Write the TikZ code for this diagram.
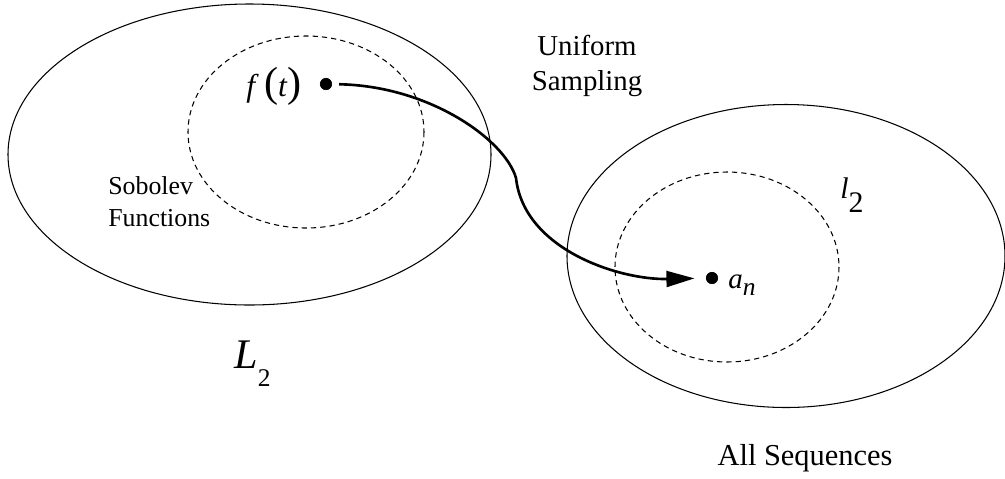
\documentclass[tikz,border=0pt]{standalone}
\usepackage{fontspec}
\setmainfont{Liberation Serif}
\usetikzlibrary{arrows.meta}
\tikzset{
  region/.style={draw,line width=0.6pt},
  subregion/.style={draw,line width=0.6pt,dash pattern=on 3pt off 2.3pt},
  dot/.style={draw,fill,circle,minimum size=6.5pt,inner sep=0pt},
  label/.style={inner sep=0pt,anchor=base},
  flow/.style={-{Triangle[length=16pt,width=9pt]},line width=1.5pt}
}
\begin{document}
\begin{tikzpicture}[x=0.02cm,y=-0.02cm]
\useasboundingbox (0,0) rectangle (1005,478);

% the two spaces and their subsets
\draw[region] (249.5,154.5) ellipse (241.5 and 150.5);
\draw[subregion] (306,132) ellipse (118 and 96);
\draw[region] (786,256) ellipse (219 and 151.5);
\draw[subregion] (727,267) ellipse (112 and 95);

% points
\node[dot] (fdot) at (326,84) {};
\node[dot] (adot) at (712,278) {};
\coordinate (bend) at (516,178);

\node[label,font=\fontsize{18}{18}\selectfont] (ft) at (274,96) {\textit{f}\,{\fontsize{24}{24}\selectfont(}\textit{t}{\fontsize{24}{24}\selectfont)}};
\node[label,anchor=base west,font=\fontsize{16.5}{16.5}\selectfont] (an) at (728,288) {\textit{a}\raisebox{-4pt}{\fontsize{14.5}{14.5}\selectfont\textit{n}}};

% space labels
\node[label,anchor=base west,font=\fontsize{24}{24}\selectfont] (bigL) at (234,368) {\textit{L}\raisebox{-10.5pt}{\fontsize{14.5}{14.5}\selectfont 2}};
\node[label,anchor=base west,font=\fontsize{17}{17}\selectfont] (smallL) at (840,198) {\textit{l}\raisebox{-8.5pt}{2}};

% last-line baselines
\node[label,align=center,font=\fontsize{16.4}{19.8}\selectfont] (sampling) at (587,90) {Uniform\\Sampling};
\node[label,anchor=base west,align=left,font=\fontsize{14.7}{18.1}\selectfont] (sobolev) at (108,226) {Sobolev\\Functions};
\node[label,font=\fontsize{17.3}{17.3}\selectfont] (allseq) at (805,465) {All Sequences};

% sampling map
\draw[flow,shorten <=4pt,shorten >=6.5pt] (fdot) .. controls (430,86) and (505,140) .. (bend)
  .. controls (524,250) and (620,280) .. (adot);

\end{tikzpicture}
\end{document}
